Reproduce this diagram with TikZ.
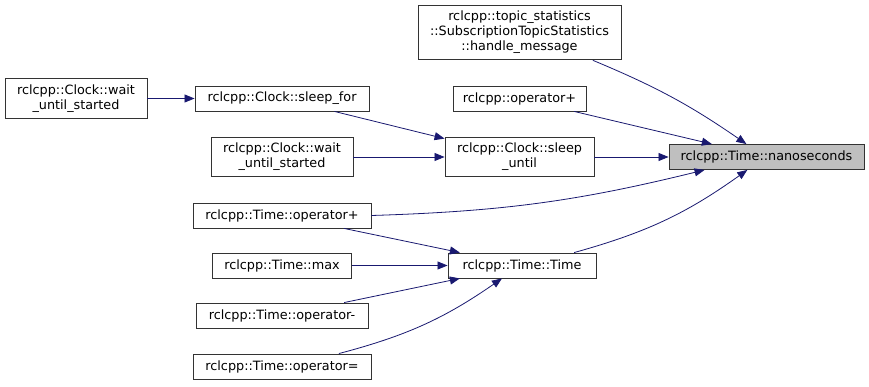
\documentclass[tikz,border=0pt]{standalone}
\usepackage{fontspec}
\setmainfont{DejaVu Sans}
\usetikzlibrary{positioning,arrows.meta}

\definecolor{edgeblue}{HTML}{191970}

\begin{document}
\begin{tikzpicture}[
    x=1pt, y=-1pt,
    fn/.style={draw=black!80, fill=white, line width=0.9pt, inner xsep=5pt, inner ysep=6pt,
        minimum height=25pt, align=center, font=\fontsize{12.8}{15}\selectfont},
    focus/.style={fn, fill=black!25},
    call/.style={-{Triangle[length=10pt, width=8pt]}, draw=edgeblue, line width=0.8pt}
]
\useasboundingbox (0,0) rectangle (869,387);

% callee
\node[focus, minimum width=195pt] (nanosec) at (766.5,157) {rclcpp::Time::nanoseconds};

% direct callers
\node[fn, minimum width=203pt] (handle) at (519.5,32.5) {rclcpp::topic\_statistics\\::SubscriptionTopicStatistics\\::handle\_message};
\node[fn, minimum width=133pt] (opplus) at (519.5,98.5) {rclcpp::operator+};
\node[fn, minimum width=149pt] (sleepuntil) at (519.5,157) {rclcpp::Clock::sleep\\\_until};
\node[fn, minimum width=148pt] (timector) at (522,265.5) {rclcpp::Time::Time};

% second column
\node[fn, minimum width=174pt] (sleepfor) at (282,98.5) {rclcpp::Clock::sleep\_for};
\node[fn, minimum width=142pt] (waitB) at (282,157) {rclcpp::Clock::wait\\\_until\_started};
\node[fn, minimum width=178pt] (timeplus) at (282,215.5) {rclcpp::Time::operator+};
\node[fn, minimum width=139pt] (timemax) at (282,265.5) {rclcpp::Time::max};
\node[fn, minimum width=172pt] (timeminus) at (282,315.5) {rclcpp::Time::operator-};
\node[fn, minimum width=178pt] (timeassign) at (282,366.5) {rclcpp::Time::operator=};

% third column
\node[fn, minimum width=142pt] (waitA) at (76,98.5) {rclcpp::Clock::wait\\\_until\_started};

\draw[call] (handle) to[bend left=6] (nanosec);
\draw[call] (opplus) -- (nanosec);
\draw[call] (sleepuntil) -- (nanosec);
\draw[call] (timeplus.east) to[bend right=6] ([xshift=36pt]nanosec.south west);
\draw[call] (timector) to[bend right=10] (nanosec);

\draw[call] (waitA) -- (sleepfor);
\draw[call] (sleepfor) -- (sleepuntil);
\draw[call] (waitB) -- (sleepuntil);

\draw[call] (timeplus) -- (timector);
\draw[call] (timemax) -- (timector);
\draw[call] (timeminus) -- (timector);
\draw[call] (timeassign) to[bend right=10] (timector);
\end{tikzpicture}
\end{document}
